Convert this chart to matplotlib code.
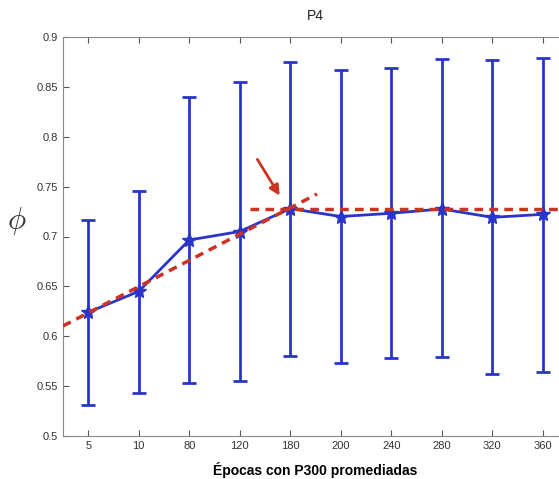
import matplotlib
matplotlib.use("Agg")
import matplotlib.pyplot as plt
import numpy as np

categories = ["5", "10", "80", "120", "180", "200", "240", "280", "320", "360"]
means = [0.624, 0.645, 0.6965, 0.705, 0.728, 0.720, 0.7233, 0.7276, 0.7192, 0.7222]
upper = [0.7165, 0.746, 0.840, 0.855, 0.875, 0.867, 0.8686, 0.8776, 0.8766, 0.879]
lower = [0.531, 0.543, 0.553, 0.5555, 0.580, 0.5735, 0.5785, 0.579, 0.5618, 0.5645]
fit1_x = [0.5, 5.53]
fit1_y = [0.6103, 0.7426]
fit2_x = [4.2, 10.6]
fit2_y = [0.7273, 0.7273]

plt.rcParams['font.family'] = ['Liberation Sans', 'DejaVu Sans']
plt.rcParams['mathtext.fontset'] = 'cm'

fig = plt.figure(figsize=(5.59, 4.79), dpi=100)
ax = fig.add_axes([63/559, 1 - 436/479, (568 - 63)/559, (436 - 37)/479])

x = np.arange(1, len(categories) + 1)
m = np.array(means)
yerr = [m - np.array(lower), np.array(upper) - m]
blue = "#2a35c8"
ax.errorbar(x, m, yerr=yerr, color=blue, lw=2, capsize=5, capthick=2,
            marker='*', markersize=10, zorder=3)
red = "#cc3322"
ax.plot(fit1_x, fit1_y, color=red, lw=2.5, ls=(0, (2.5, 1.8)), zorder=4)
ax.plot(fit2_x, fit2_y, color=red, lw=2.5, ls=(0, (2.5, 1.8)), zorder=4, clip_on=True)
ax.annotate("", xy=(4.82, 0.7386), xytext=(4.32, 0.7797),
            arrowprops=dict(arrowstyle="-|>", color=red, lw=2, mutation_scale=15))

ax.set_xlim(0.5, 10.5)
ax.set_ylim(0.5, 0.9)
ax.set_xticks(x)
ax.set_xticklabels(categories)
ax.set_yticks(np.arange(0.5, 0.901, 0.05))
ax.set_yticklabels(["0.5", "0.55", "0.6", "0.65", "0.7", "0.75", "0.8", "0.85", "0.9"])
ax.tick_params(direction='in', top=True, right=True, length=4, labelsize=8,
               colors="#555555", labelcolor="#333333", width=0.8)
for s in ax.spines.values():
    s.set_color("#888888")
ax.set_title("P4", fontsize=10, color="#222222", pad=12)
ax.set_xlabel("Épocas con P300 promediadas", fontsize=10, fontweight='bold', labelpad=8)
ax.set_ylabel(r"$\phi$", fontsize=22, rotation=0, labelpad=14, color="#333333")

fig.savefig("out.png", dpi=100)
